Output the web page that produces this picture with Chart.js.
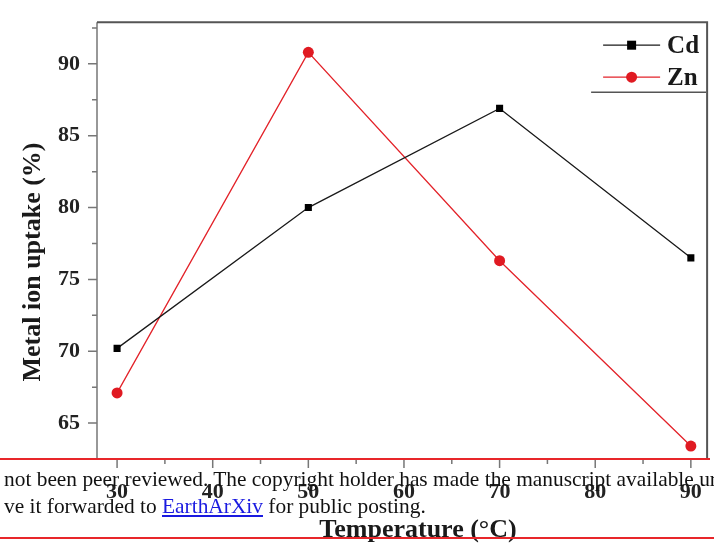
<!DOCTYPE html>
<html>
<head>
<meta charset="utf-8">
<script src="https://cdn.jsdelivr.net/npm/chart.js@4/dist/chart.umd.min.js"></script>
<style>
  html, body { margin: 0; padding: 0; background: #fff; overflow: hidden; }
  #wrap { position: relative; width: 714px; height: 555px; }
  #note { position: absolute; left: 4px; top: 466px; font: 21.4px/27px "Liberation Serif", serif; color: #111; white-space: nowrap; }
  #note a { color: #1a1ae0; text-decoration: underline; }
  .rule { position: absolute; left: 0; height: 2px; background: #e8262a; }
</style>
</head>
<body>
<div id="wrap">
  <canvas id="chart" width="714" height="555"></canvas>
  <div id="note">not been peer reviewed. The copyright holder has made the manuscript available ur<br>ve it forwarded to <a>EarthArXiv</a> for public posting.</div>
  <div class="rule" style="top:458px;width:710px"></div>
  <div class="rule" style="top:537px;width:714px"></div>
</div>
<script>
// data
const temps = [30, 50, 70, 90];
const cdUptake = [70.2, 80.0, 86.9, 76.5];
const znUptake = [67.1, 90.8, 76.3, 63.4];
const xTicks = [30, 40, 50, 60, 70, 80, 90];
const yTicks = [65, 70, 75, 80, 85, 90];
const xMinor = [35, 45, 55, 65, 75, 85];
const yMinor = [67.5, 72.5, 77.5, 82.5, 87.5, 92.5];

const serif = '"Liberation Serif", "Times New Roman", serif';

// axes frame, outward ticks, titles
const frame = {
  id: 'frame',
  afterDraw(chart) {
    const { ctx, chartArea: a, scales: { x, y } } = chart;
    ctx.save();
    ctx.strokeStyle = '#777';
    ctx.lineWidth = 1.5;
    ctx.beginPath();
    ctx.moveTo(a.left, a.top); ctx.lineTo(a.left, a.bottom); ctx.lineTo(a.right, a.bottom);
    xTicks.forEach(v => { const p = x.getPixelForValue(v); ctx.moveTo(p, a.bottom); ctx.lineTo(p, a.bottom + 9); });
    xMinor.forEach(v => { const p = x.getPixelForValue(v); ctx.moveTo(p, a.bottom); ctx.lineTo(p, a.bottom + 5); });
    yTicks.forEach(v => { const p = y.getPixelForValue(v); ctx.moveTo(a.left, p); ctx.lineTo(a.left - 9, p); });
    yMinor.forEach(v => { const p = y.getPixelForValue(v); ctx.moveTo(a.left, p); ctx.lineTo(a.left - 5, p); });
    ctx.stroke();
    ctx.strokeStyle = '#555';
    ctx.lineWidth = 2;
    ctx.beginPath();
    ctx.moveTo(a.left, a.top); ctx.lineTo(a.right, a.top); ctx.lineTo(a.right, a.bottom);
    ctx.stroke();

    ctx.fillStyle = '#1a1a1a';
    ctx.font = 'bold 26px ' + serif;
    ctx.textAlign = 'center';
    ctx.textBaseline = 'middle';
    ctx.fillText('Temperature (°C)', 418, 530);
    ctx.translate(33, 262);
    ctx.rotate(-Math.PI / 2);
    ctx.font = 'bold 26px ' + serif;
    ctx.fillText('Metal ion uptake (%)', 0, 0);
    ctx.restore();
  }
};

// legend in the top right corner of the plot
const cornerLegend = {
  id: 'cornerLegend',
  afterDraw(chart) {
    const { ctx, chartArea: a } = chart;
    ctx.save();
    chart.data.datasets.forEach((ds, i) => {
      const yy = a.top + 23 + i * 32;
      const x0 = a.right - 104, x1 = a.right - 47;
      ctx.strokeStyle = ds.borderColor;
      ctx.lineWidth = ds.borderWidth;
      ctx.beginPath(); ctx.moveTo(x0, yy); ctx.lineTo(x1, yy); ctx.stroke();
      ctx.fillStyle = ds.pointBackgroundColor;
      const mx = (x0 + x1) / 2;
      if (ds.pointStyle === 'rect') ctx.fillRect(mx - 4.5, yy - 4.5, 9, 9);
      else { ctx.beginPath(); ctx.arc(mx, yy, 5.5, 0, Math.PI * 2); ctx.fill(); }
      ctx.fillStyle = '#1a1a1a';
      ctx.font = 'bold 25px ' + serif;
      ctx.textBaseline = 'middle';
      ctx.fillText(ds.label, a.right - 40, yy + 1);
    });
    ctx.strokeStyle = '#555';
    ctx.lineWidth = 1.5;
    ctx.beginPath(); ctx.moveTo(a.right - 116, a.top + 70); ctx.lineTo(a.right - 1, a.top + 70); ctx.stroke();
    ctx.restore();
  }
};

new Chart(document.getElementById('chart'), {
  type: 'line',
  data: {
    datasets: [{
      label: 'Cd',
      data: temps.map((t, i) => ({ x: t, y: cdUptake[i] })),
      borderColor: '#1a1a1a',
      borderWidth: 1.3,
      pointStyle: 'rect',
      pointRadius: 5,
      pointBackgroundColor: '#000',
      pointBorderWidth: 0
    }, {
      label: 'Zn',
      data: temps.map((t, i) => ({ x: t, y: znUptake[i] })),
      borderColor: '#e3232a',
      borderWidth: 1.3,
      pointStyle: 'circle',
      pointRadius: 5.5,
      pointBackgroundColor: '#e01a22',
      pointBorderWidth: 0
    }]
  },
  options: {
    responsive: false,
    animation: false,
    layout: { padding: { top: 18, right: 4, left: 0, bottom: 0 } },
    plugins: { legend: { display: false }, tooltip: { enabled: false } },
    scales: {
      x: {
        type: 'linear',
        min: 27.9,
        max: 91.7,
        afterBuildTicks: s => { s.ticks = xTicks.map(v => ({ value: v })); },
        afterFit: s => { s.height = 96; },
        grid: { display: false },
        border: { display: false },
        ticks: { padding: 12, color: '#222', font: { family: serif, weight: 'bold', size: 22 } }
      },
      y: {
        min: 62.5,
        max: 92.9,
        afterBuildTicks: s => { s.ticks = yTicks.map(v => ({ value: v })); },
        afterFit: s => { s.width = 97; },
        grid: { display: false },
        border: { display: false },
        ticks: { padding: 9, color: '#222', font: { family: serif, weight: 'bold', size: 22 } }
      }
    }
  },
  plugins: [frame, cornerLegend]
});
</script>
</body>
</html>
